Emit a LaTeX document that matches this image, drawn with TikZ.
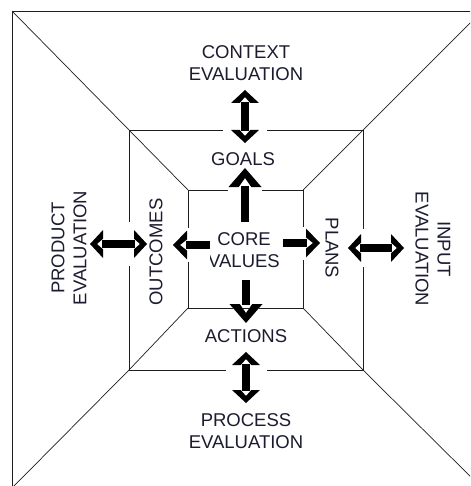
\documentclass[tikz,border=0pt]{standalone}
\usepackage{fontspec}
\setmainfont{Liberation Sans}
\usetikzlibrary{arrows.meta}

\makeatletter
% Block arrow head: a solid triangle, tip at the origin pointing along +x,
% with a notch cut into its back where the shaft comes in.
% length = tip to back, width = full height of the back,
% inset = depth of the notch measured from the back.
\pgfdeclarearrow{
  name = Chev,
  parameters = {\the\pgfarrowlength,\the\pgfarrowwidth,\the\pgfarrowinset},
  setup code = {
    \pgfarrowssettipend{0pt}
    \pgfarrowssetbackend{-\pgfarrowlength}
    \dimen@=-\pgfarrowlength
    \advance\dimen@ by 1pt
    \pgfarrowssetlineend{\dimen@}
    \pgfarrowshullpoint{0pt}{0pt}
    \pgfarrowsupperhullpoint{-\pgfarrowlength}{.5\pgfarrowwidth}
    \pgfarrowssavethe\pgfarrowlength
    \pgfarrowssavethe\pgfarrowwidth
    \pgfarrowssavethe\pgfarrowinset
  },
  drawing code = {
    \pgfpathmoveto{\pgfpointorigin}
    \pgfpathlineto{\pgfpoint{-\pgfarrowlength}{.5\pgfarrowwidth}}
    \pgfpathlineto{\pgfpoint{-\pgfarrowlength}{.19\pgfarrowwidth}}
    \pgfpathlineto{\pgfpoint{\pgfarrowinset-\pgfarrowlength}{0pt}}
    \pgfpathlineto{\pgfpoint{-\pgfarrowlength}{-.19\pgfarrowwidth}}
    \pgfpathlineto{\pgfpoint{-\pgfarrowlength}{-.5\pgfarrowwidth}}
    \pgfpathclose
    \pgfusepathqfill
  },
  defaults = {length=13pt, width=28pt, inset=6pt}
}
\makeatother

\definecolor{labelink}{HTML}{1C1C30}
\definecolor{frameline}{HTML}{1E1E1E}

\begin{document}
\begin{tikzpicture}[x=1pt,y=-1pt,
  frame/.style={draw=frameline, line width=0.7pt},
  label/.style={font=\fontsize{18.5}{22}\selectfont, text=labelink,
                inner sep=0pt, align=center},
  twoway/.style={line width=8pt, black,
                 {Chev[length=13pt,width=28pt,inset=6pt]}-{Chev[length=13pt,width=28pt,inset=6pt]}},
  onewayv/.style={line width=8pt, black,
                 -{Chev[length=19pt,width=33pt,inset=9pt]}},
  onewayh/.style={line width=8pt, black,
                 -{Chev[length=14pt,width=29pt,inset=7pt]}},
  whitegap/.style={preaction={draw=white, line width=#1}}
]
\useasboundingbox (0,0) rectangle (470,486);
\fill[white] (0,0) rectangle (470,486);
\clip (0,0) rectangle (470,486);

% three nested squares
\coordinate (o1) at (12,11);   \coordinate (o2) at (482,11);
\coordinate (o3) at (482,488); \coordinate (o4) at (12,488);
\coordinate (m1) at (129,130); \coordinate (m2) at (363,130);
\coordinate (m3) at (363,370); \coordinate (m4) at (129,370);
\coordinate (i1) at (188,190); \coordinate (i2) at (303,190);
\coordinate (i3) at (303,308); \coordinate (i4) at (188,308);

\draw[frame] (o1) -- (o2) -- (o3) -- (o4) -- cycle;
\draw[frame] (m1) -- (m2) -- (m3) -- (m4) -- cycle;
\draw[frame] (i1) -- (i2) -- (i3) -- (i4) -- cycle;

% corner diagonals
\draw[frame] (o1) -- (m1) -- (i1);
\draw[frame] (o2) -- (m2) -- (i2);
\draw[frame] (o3) -- (m3) -- (i3);
\draw[frame] (o4) -- (m4) -- (i4);

% labels
\node[label, anchor=north] (ctx) at (246,45) {CONTEXT\\EVALUATION};
\node[label] (goals) at (243,159) {GOALS};
\node[label, anchor=north] (core) at (244,232) {CORE\\VALUES};
\node[label] (actions) at (246,336.5) {ACTIONS};
\node[label, anchor=north] (proc) at (246,413) {PROCESS\\EVALUATION};
\node[label, rotate=90] (prod) at (69,248) {PRODUCT\\EVALUATION};
\node[label, rotate=90] (outc) at (156,252) {OUTCOMES};
\node[label, rotate=-90] (plans) at (332,248) {PLANS};
\node[label, rotate=-90] (inp) at (433,249) {INPUT\\EVALUATION};

% arrow end points
\coordinate (ctxEnd)   at (245,90);  \coordinate (goalsEnd) at (245,143);
\coordinate (coreUp)   at (245,222); \coordinate (goalsIn)  at (245,168);
\coordinate (coreDn)   at (246,280); \coordinate (actIn)    at (246,323);
\coordinate (actEnd)   at (246,352); \coordinate (procEnd)  at (246,403);
\coordinate (coreLf)   at (210,245); \coordinate (outcIn)   at (173,245);
\coordinate (coreRt)   at (283,243); \coordinate (plansIn)  at (320,243);
\coordinate (prodEnd)  at (90,244);  \coordinate (outcEnd)  at (147,244);
\coordinate (plansEnd) at (348,248); \coordinate (inpEnd)   at (404,248);

% arrows
\draw[twoway, whitegap=44] (ctxEnd) -- (goalsEnd);
\draw[twoway, whitegap=41] (actEnd) -- (procEnd);
\draw[twoway, whitegap=44] (outcEnd) -- (prodEnd);
\draw[twoway, whitegap=38] (plansEnd) -- (inpEnd);
\draw[onewayv, whitegap=34] (coreUp) -- (goalsIn);
\draw[onewayv, whitegap=35] (coreDn) -- (actIn);
\draw[onewayh, whitegap=34] (coreLf) -- (outcIn);
\draw[onewayh, whitegap=33] (coreRt) -- (plansIn);
\end{tikzpicture}
\end{document}
